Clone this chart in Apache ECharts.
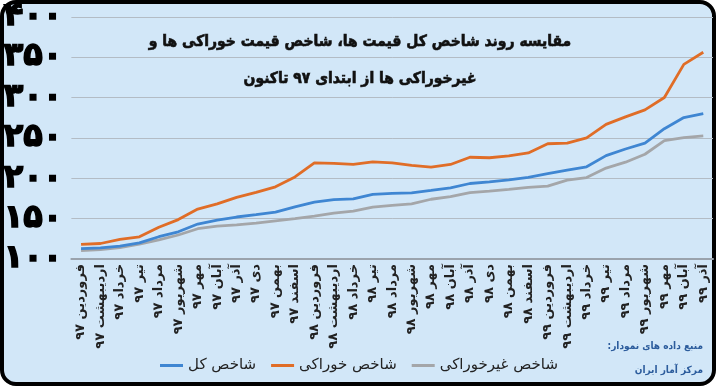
<!DOCTYPE html>
<html><head><meta charset="utf-8">
<script src="https://cdn.jsdelivr.net/npm/echarts@6/dist/echarts.min.js"></script>
<style>html,body{margin:0;padding:0;background:#fff}#c{width:718px;height:388px}</style>
</head><body><div id="c"></div>
<script>
const categories = ['فروردین ۹۷','اردیبهشت ۹۷','خرداد ۹۷','تیر ۹۷','مرداد ۹۷','شهریور ۹۷','مهر ۹۷','آبان ۹۷','آذر ۹۷','دی ۹۷','بهمن ۹۷','اسفند ۹۷',
 'فروردین ۹۸','اردیبهشت ۹۸','خرداد ۹۸','تیر ۹۸','مرداد ۹۸','شهریور ۹۸','مهر ۹۸','آبان ۹۸','آذر ۹۸','دی ۹۸','بهمن ۹۸','اسفند ۹۸',
 'فروردین ۹۹','اردیبهشت ۹۹','خرداد ۹۹','تیر ۹۹','مرداد ۹۹','شهریور ۹۹','مهر ۹۹','آبان ۹۹','آذر ۹۹'];
const totalIndex = [112.8,113.8,115.9,120,127.6,133.7,143.3,148,152,154.9,158.1,164.6,170.3,173.6,174.4,180.1,181.3,182,185,188.2,193.5,195.5,198,201.2,205.7,210.2,214.2,228,236.2,243.5,261.4,275.2,280];
const foodIndex = [118.2,119.2,124.2,127.5,139.4,148.8,161.8,168.3,176.4,182.5,189.4,201.6,219,218.3,217.1,220.3,219.1,215.9,213.8,217.1,226,225.4,227.6,231.3,242.7,243.5,250,266.7,276,284.6,300,341,356];
const nonFoodIndex = [110.5,111.6,114.2,118.3,123.6,129.7,137.5,140.7,142.3,144.3,147.2,150,153,156.9,159.3,164.2,166.3,168.3,174,177.2,182.1,184,186.2,188.6,190.2,197.6,200.8,212.6,219.9,229.7,246.7,250.4,252.4];
const seriesNames = ['شاخص کل','شاخص خوراکی','شاخص غیرخوراکی'];
const yTicks = [100,150,200,250,300,350,400];
const yTickLabels = ['۱۰۰','۱۵۰','۲۰۰','۲۵۰','۳۰۰','۳۵۰','۴۰۰'];
const titleLines = ['مقایسه روند شاخص کل قیمت ها، شاخص قیمت خوراکی ها و','غیرخوراکی ها از ابتدای ۹۷ تاکنون'];
const sourceLines = ['منبع داده های نمودار:','مرکز آمار ایران'];

const FONT = 'DejaVu Sans';
const TFONT = '"DejaVu Sans Condensed", "DejaVu Sans"';
const RLM = '\u200F';
const chart = echarts.init(document.getElementById('c'));
const colors = ['#3f86d2','#e06d27','#a4a6a9'];
chart.setOption({
  animation:false,
  color: colors,
  graphic: [
    {type:'rect', z:-10, silent:true, shape:{x:2,y:2,width:712,height:382,r:14},
     style:{fill:'#d2e7f8', stroke:'#000', lineWidth:4}},
    {type:'text', right:15, top:341, silent:true,
     style:{text:sourceLines[0]+RLM, fill:'#2c5c9c', font:'bold 10px '+TFONT, textAlign:'right'}},
    {type:'text', right:15, top:365, silent:true,
     style:{text:sourceLines[1]+RLM, fill:'#2c5c9c', font:'bold 10px '+TFONT, textAlign:'right'}}
  ],
  title: {
    text: titleLines.join('\n'),
    left: 355, top: 18, textAlign:'center',
    textStyle:{fontFamily:TFONT, fontWeight:'bold', fontSize:15.5, color:'#111', lineHeight:37,
      textBorderColor:'#111', textBorderWidth:0.6}
  },
  legend: {
    data: seriesNames, bottom: 10, left: 'center', itemGap: 15,
    icon:'rect', itemWidth:23, itemHeight:3,
    textStyle:{fontFamily:FONT, fontSize:15, color:'#222'}
  },
  grid: {left:70, right:5, top:14, bottom:129, containLabel:false},
  xAxis: {
    type:'category', data:categories, boundaryGap:true,
    axisLine:{lineStyle:{color:'#9aa3ad', width:2}},
    axisTick:{show:false},
    axisLabel:{interval:0, rotate:90, margin:5, fontFamily:FONT, fontSize:13, fontWeight:'bold', color:'#222'}
  },
  yAxis: {
    type:'value', min:100, max:400, interval:50,
    axisLine:{show:false}, axisTick:{show:false},
    splitLine:{lineStyle:{color:'#b3bcc5', width:1}},
    axisLabel:{margin:9, fontFamily:FONT, fontWeight:'bold', fontSize:32, color:'#000',
      textBorderColor:'#000', textBorderWidth:1.5,
      formatter:v=>yTickLabels[yTicks.indexOf(v)]}
  },
  series: [
    {name:seriesNames[0], type:'line', data:totalIndex, showSymbol:false, lineStyle:{width:2.8}, z:3},
    {name:seriesNames[1], type:'line', data:foodIndex, showSymbol:false, lineStyle:{width:2.8}, z:3},
    {name:seriesNames[2], type:'line', data:nonFoodIndex, showSymbol:false, lineStyle:{width:2.8}, z:2}
  ]
});
</script></body></html>
